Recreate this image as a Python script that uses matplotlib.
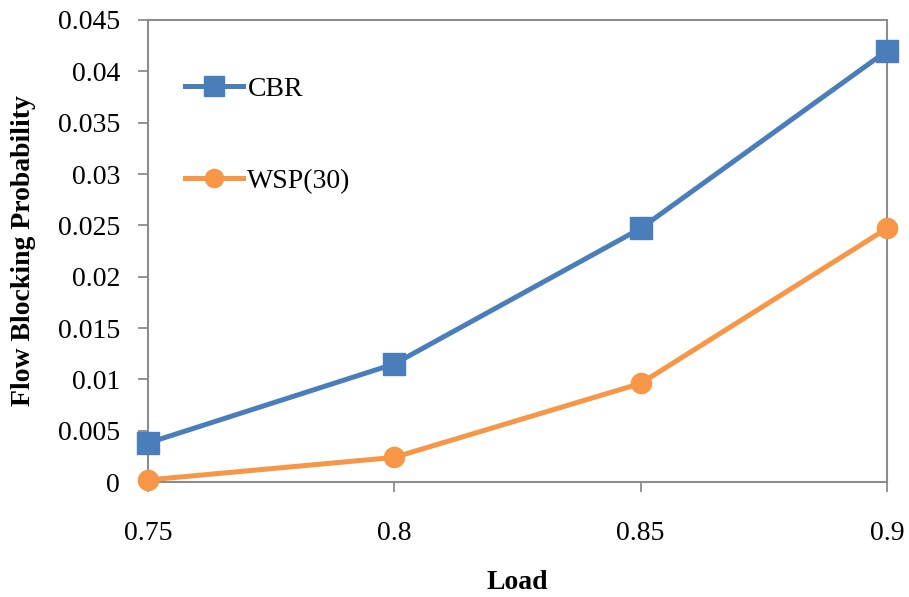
import matplotlib
matplotlib.use("Agg")
import matplotlib.pyplot as plt
from matplotlib.ticker import FixedLocator

plt.rcParams['font.family'] = ['Liberation Serif', 'DejaVu Serif']

load = [0.75, 0.8, 0.85, 0.9]
cbr = [0.0038, 0.0115, 0.0247, 0.0420]
wsp30 = [0.0002, 0.0024, 0.0096, 0.0247]
series_names = ["CBR", "WSP(30)"]
y_ticks = [0, 0.005, 0.01, 0.015, 0.02, 0.025, 0.03, 0.035, 0.04, 0.045]
y_tick_labels = ["0", "0.005", "0.01", "0.015", "0.02", "0.025", "0.03", "0.035", "0.04", "0.045"]
x_ticks = [0.75, 0.8, 0.85, 0.9]
x_tick_labels = ["0.75", "0.8", "0.85", "0.9"]

blue = "#4A7EBB"
orange = "#F79646"
frame = "#8C8C8C"
fs = 20

fig = plt.figure(figsize=(9.09, 5.97), dpi=100)
ax = fig.add_axes([0.1628, 0.1926, 0.8130, 0.7739])

ax.plot(load, cbr, color=blue, lw=3.6, marker="s", ms=15.5, mfc=blue, mec=blue,
        label=series_names[0], clip_on=False, zorder=3)
ax.plot(load, wsp30, color=orange, lw=3.6, marker="o", ms=14.5, mfc=orange, mec=orange,
        label=series_names[1], clip_on=False, zorder=3)

ax.set_xlim(0.75, 0.9)
ax.set_ylim(0, 0.045)
ax.xaxis.set_major_locator(FixedLocator(x_ticks))
ax.yaxis.set_major_locator(FixedLocator(y_ticks))
ax.set_xticklabels(x_tick_labels)
ax.set_yticklabels(y_tick_labels)

for s in ax.spines.values():
    s.set_color(frame)
    s.set_linewidth(1.5)
ax.tick_params(axis="both", which="major", direction="out", length=7, width=1.3,
               color=frame, labelsize=fs, labelcolor="black")
ax.tick_params(axis="x", pad=21)
ax.tick_params(axis="y", pad=13)

ax.set_xlabel("Load", fontsize=fs, fontweight="bold", labelpad=17)
ax.set_ylabel("Flow Blocking Probability", fontsize=fs, fontweight="bold", labelpad=16)

leg = ax.legend(loc="upper left", bbox_to_anchor=(0.05, 0.878), frameon=False,
                fontsize=fs, handlelength=2.1, handletextpad=0.15,
                labelspacing=2.4, borderpad=0, borderaxespad=0, markerscale=0.9)

fig.savefig("out.png", dpi=100, facecolor="white")
